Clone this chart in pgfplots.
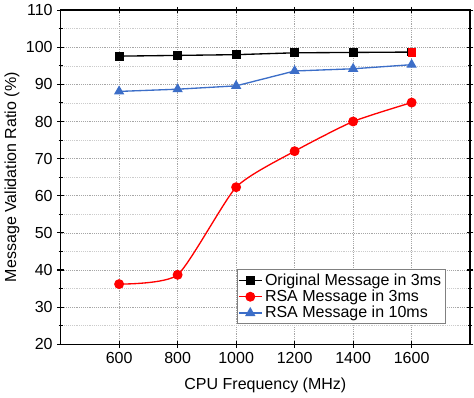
\documentclass[border=0pt]{standalone}
\usepackage{pgfplots}
\pgfplotsset{compat=1.18}
\usepackage{fontspec}
\setmainfont{Liberation Sans}
\begin{document}
\begin{tikzpicture}
\begin{axis}[
  scale only axis,
  width=307pt, height=250.5pt,
  xmin=400, xmax=1800, ymin=20, ymax=110,
  xtick={600,800,1000,1200,1400,1600},
  ytick={20,30,40,50,60,70,80,90,100,110},
  minor y tick num=1,
  tick align=center,
  major tick length=5pt, minor tick length=3pt,
  /pgf/number format/assume math mode=true,
  /pgf/number format/1000 sep={},
  ticklabel style={font=\fontsize{12}{14}\selectfont},
  xlabel={CPU Frequency (MHz)},
  ylabel={Message Validation Ratio (\%)},
  label style={font=\fontsize{12}{14}\selectfont},
  xmajorgrids, ymajorgrids, yminorgrids,
  major grid style={densely dotted, gray!70, line width=0.5pt},
  minor grid style={densely dotted, gray!40, line width=0.4pt},
  axis line style={line width=1pt},
  every tick/.style={black, line width=0.8pt},
  legend style={at={(0.94,0.06)}, anchor=south east, draw=gray, line width=0.6pt,
    font=\fontsize{12}{14}\selectfont, inner sep=1pt, row sep=-2pt},
  legend cell align=left,
  xlabel style={yshift=-4pt},
  ylabel style={yshift=-2pt},
]
\addplot[black, line width=1pt, mark=square*, mark size=2.8pt] coordinates {
 (600,97.6) (800,97.8) (1000,98.0) (1200,98.5) (1400,98.6) (1600,98.7)};
\addlegendentry{Original Message in 3ms}
\addplot[red, line width=1pt, smooth, tension=0.35, mark=*, mark size=3.2pt, mark options={fill=red}] coordinates {
 (600,36.2) (800,38.7) (1000,62.3) (1200,72.0) (1400,80.0) (1600,85.1)};
\addlegendentry{RSA Message in 3ms}
\addplot[color={rgb,255:red,60;green,110;blue,200}, line width=1pt, mark=triangle*, mark size=3.5pt] coordinates {
 (600,88.1) (800,88.7) (1000,89.6) (1200,93.6) (1400,94.2) (1600,95.3)};
\addlegendentry{RSA Message in 10ms}
\addplot[red, only marks, mark=square*, mark size=2.8pt, forget plot] coordinates {(1600,98.7)};
\end{axis}
\end{tikzpicture}
\end{document}
